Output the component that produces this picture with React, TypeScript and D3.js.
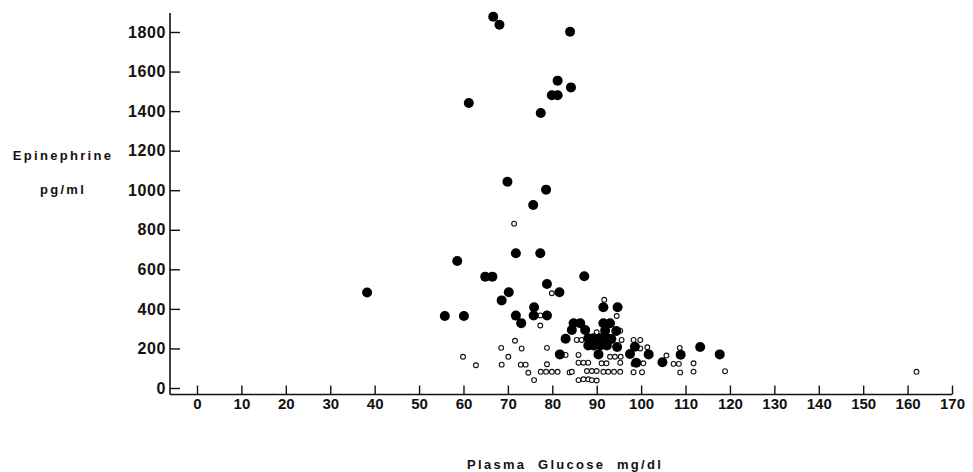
import React, { useEffect, useRef } from 'react';
import * as d3 from 'd3';

// filled circles: [glucose mg/dl, epinephrine pg/ml]
const filledPoints: [number, number][] = [
  [66.7, 1877], [68.1, 1837], [84.0, 1801], [81.2, 1554], [84.2, 1520],
  [79.9, 1480], [81.2, 1480], [61.2, 1441], [77.4, 1390], [69.9, 1043],
  [78.6, 1003], [75.7, 925], [71.8, 681], [77.3, 681], [58.6, 642],
  [64.9, 563], [66.5, 563], [87.2, 565], [78.8, 526], [38.3, 483],
  [70.2, 484], [81.6, 484], [68.6, 443], [75.9, 408], [55.8, 364],
  [60.1, 364], [71.8, 366], [75.8, 367], [78.8, 367], [73.0, 328],
  [91.5, 408], [94.7, 408], [84.8, 327], [86.3, 327], [91.5, 327],
  [93.0, 327], [84.4, 293], [87.4, 293], [91.9, 290], [94.4, 288],
  [83.0, 249], [88.1, 251], [89.3, 251], [90.8, 251], [92.3, 251],
  [93.3, 248], [88.1, 215], [89.3, 215], [90.8, 215], [92.3, 215],
  [94.6, 207], [81.7, 170], [90.4, 170], [97.5, 172], [98.6, 209],
  [101.7, 170], [98.9, 128], [104.8, 130], [108.9, 168], [113.3, 207],
  [117.7, 170],
];

// open circles
const openPoints: [number, number][] = [
  [71.4, 831], [79.9, 479], [91.7, 446], [77.3, 367], [77.3, 316],
  [94.5, 364], [71.6, 239], [68.5, 203], [73.1, 200], [78.8, 203],
  [59.9, 158], [70.1, 158], [62.8, 115], [68.6, 118], [72.9, 118],
  [74.0, 118], [78.8, 120], [74.6, 77], [77.4, 82], [78.6, 82],
  [79.9, 82], [81.2, 82], [83.9, 79], [75.9, 40], [83.0, 167],
  [85.9, 167], [85.5, 243], [86.6, 243], [90.0, 282], [95.3, 290],
  [95.6, 243], [98.3, 243], [99.8, 243], [93.0, 158], [94.1, 158],
  [95.4, 158], [85.9, 128], [87.0, 128], [88.1, 128], [91.1, 125],
  [92.2, 125], [95.3, 128], [98.3, 121], [100.5, 125], [84.4, 82],
  [87.8, 86], [88.9, 86], [90.0, 86], [91.5, 82], [92.6, 82],
  [93.9, 82], [95.3, 82], [98.3, 80], [100.2, 80], [85.9, 40],
  [87.0, 44], [88.1, 44], [88.9, 40], [90.0, 38], [99.8, 200],
  [101.4, 206], [105.7, 164], [107.3, 122], [108.5, 122], [108.7, 203],
  [108.8, 79], [111.8, 125], [111.8, 83], [118.9, 85], [162.0, 82],
];

const xTicks = d3.range(0, 171, 10);
const yTicks = d3.range(0, 1801, 200);
const yTitle = ['Epinephrine', 'pg/ml'];
const xTitle = ['Plasma', 'Glucose', 'mg/dl'];

const W = 973;
const H = 472;
const FONT = '"Liberation Sans", Arial, sans-serif';

const App = () => {
  const svgRef = useRef<SVGSVGElement>(null);

  useEffect(() => {
    const svg = d3.select(svgRef.current);
    svg.selectAll('*').remove();

    const axisLeftX = 170;
    const axisBottomY = 394.5;
    const axisTop = 13;
    const axisRight = 952;

    const x = d3.scaleLinear().domain([-6.08, 170]).range([axisLeftX, axisRight]);
    const y = d3.scaleLinear().domain([0, 1800]).range([388, 32]);

    // axis lines
    svg.append('line')
      .attr('x1', axisLeftX).attr('x2', axisLeftX)
      .attr('y1', axisTop).attr('y2', axisBottomY)
      .attr('stroke', '#111').attr('stroke-width', 1.6);
    svg.append('line')
      .attr('x1', axisLeftX).attr('x2', axisRight)
      .attr('y1', axisBottomY).attr('y2', axisBottomY)
      .attr('stroke', '#111').attr('stroke-width', 1.6);

    // y axis: ticks point inward
    const gy = svg.append('g')
      .attr('transform', `translate(${axisLeftX},0)`)
      .call(d3.axisLeft(y).tickValues(yTicks).tickFormat(d3.format('d'))
        .tickSizeInner(-10).tickSizeOuter(0).tickPadding(4));
    gy.select('.domain').remove();
    gy.selectAll('line').attr('stroke', '#111').attr('stroke-width', 1.4);
    gy.selectAll('text')
      .attr('fill', '#111')
      .style('font-family', FONT)
      .style('font-size', '16px')
      .style('font-weight', 'bold')
      .style('letter-spacing', '0.6px');

    // x axis: ticks point upward
    const gx = svg.append('g')
      .attr('transform', `translate(0,${axisBottomY})`)
      .call(d3.axisBottom(x).tickValues(xTicks).tickFormat(d3.format('d'))
        .tickSizeInner(-9).tickSizeOuter(0).tickPadding(4));
    gx.select('.domain').remove();
    gx.selectAll('line').attr('stroke', '#111').attr('stroke-width', 1.4);
    gx.selectAll('text')
      .attr('fill', '#111')
      .style('font-family', FONT)
      .style('font-size', '15px')
      .style('font-weight', 'bold');

    // open circles
    svg.append('g')
      .selectAll('circle')
      .data(openPoints)
      .join('circle')
      .attr('cx', d => x(d[0]))
      .attr('cy', d => y(d[1]))
      .attr('r', 2.4)
      .attr('fill', 'white')
      .attr('stroke', '#111')
      .attr('stroke-width', 1.1);

    // filled circles
    svg.append('g')
      .selectAll('circle')
      .data(filledPoints)
      .join('circle')
      .attr('cx', d => x(d[0]))
      .attr('cy', d => y(d[1]))
      .attr('r', 5)
      .attr('fill', '#000');

    // y title (two lines)
    svg.append('g')
      .selectAll('text')
      .data(yTitle)
      .join('text')
      .attr('x', 63)
      .attr('y', (d, i) => 160 + i * 34)
      .attr('text-anchor', 'middle')
      .attr('fill', '#111')
      .style('font-family', FONT)
      .style('font-size', '13px')
      .style('font-weight', 'bold')
      .style('letter-spacing', '2.3px')
      .text(d => d);

    // x title
    const xTitleX = [467, 538, 617];
    svg.append('g')
      .selectAll('text')
      .data(xTitle)
      .join('text')
      .attr('x', (d, i) => xTitleX[i])
      .attr('y', 469)
      .attr('fill', '#111')
      .style('font-family', FONT)
      .style('font-size', '13px')
      .style('font-weight', 'bold')
      .style('letter-spacing', '2.3px')
      .text(d => d);
  }, []);

  return (
    <svg
      ref={svgRef}
      width={W}
      height={H}
      style={{ position: 'absolute', left: 0, top: 0, background: 'white' }}
    />
  );
};

export default App;
